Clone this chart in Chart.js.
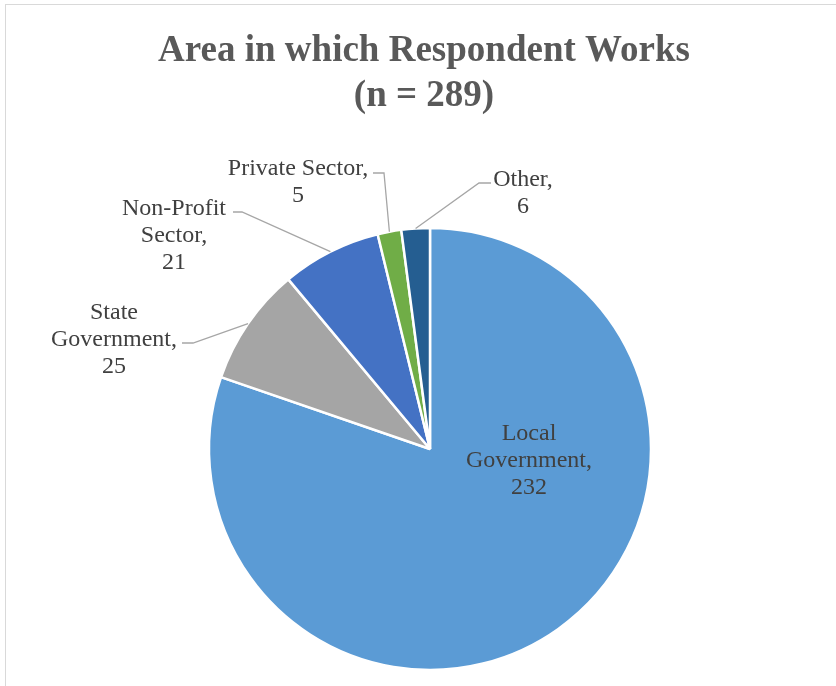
<!DOCTYPE html>
<html>
<head>
<meta charset="utf-8">
<title>Area in which Respondent Works</title>
<script src="https://cdn.jsdelivr.net/npm/chart.js@4.4.0/dist/chart.umd.min.js"></script>
<style>
    html, body { margin: 0; padding: 0; background: #ffffff; overflow: hidden; }
    #wrap { position: relative; width: 836px; height: 686px; }
    #frame { position: absolute; left: 5px; top: 4px; width: 900px; height: 900px; border: 1.5px solid #d9d9d9; }
    #pieCanvas { position: absolute; left: 0; top: 0; }
</style>
</head>
<body>
<div id="wrap">
    <div id="frame"></div>
    <canvas id="pieCanvas" width="836" height="686"></canvas>
</div>
<script>
// data
var categories = ['Local Government', 'State Government', 'Non-Profit Sector', 'Private Sector', 'Other'];
var respondents = [232, 25, 21, 5, 6];
var labelLines = [['Local', 'Government,'], ['State', 'Government,'], ['Non-Profit', 'Sector,'], ['Private Sector,'], ['Other,']];
var sliceColors = ['#5B9BD5', '#A5A5A5', '#4472C4', '#70AD47', '#255E91'];
var titleLines = ['Area in which Respondent Works', '(n = 289)'];

// label placement, relative to pie centre (px)
var labelLayout = [
    { inside: true, x: 99, y: -9 },
    { x: -316, y: -130, elbow: [-237, -106], end: -248 },
    { x: -256, y: -234, elbow: [-188, -237], end: -197 },
    { x: -132, y: -274, elbow: [-46, -276], end: -57 },
    { x: 93, y: -263, elbow: [49, -266], end: 61 }
];

var titlePlugin = {
    id: 'titleText',
    beforeDraw: function (chart) {
        var ctx = chart.ctx;
        ctx.save();
        ctx.font = 'bold 37px "Liberation Serif", "Times New Roman", serif';
        ctx.fillStyle = '#595959';
        ctx.textAlign = 'center';
        ctx.textBaseline = 'alphabetic';
        ctx.fillText(titleLines[0], 424, 61);
        ctx.fillText(titleLines[1], 424, 106);
        ctx.restore();
    }
};

var labelPlugin = {
    id: 'sliceLabels',
    afterDatasetsDraw: function (chart) {
        var ctx = chart.ctx;
        var meta = chart.getDatasetMeta(0);
        ctx.save();
        ctx.font = '24px "Liberation Serif", "Times New Roman", serif';
        ctx.textAlign = 'center';
        ctx.textBaseline = 'alphabetic';
        meta.data.forEach(function (arc, i) {
            var p = arc.getProps(['x', 'y', 'startAngle', 'endAngle', 'outerRadius'], true);
            var lay = labelLayout[i];
            var lines = labelLines[i].concat([String(respondents[i])]);
            if (!lay.inside) {
                var mid = (p.startAngle + p.endAngle) / 2;
                ctx.strokeStyle = '#a6a6a6';
                ctx.lineWidth = 1.3;
                ctx.beginPath();
                ctx.moveTo(p.x + Math.cos(mid) * p.outerRadius, p.y + Math.sin(mid) * p.outerRadius);
                ctx.lineTo(p.x + lay.elbow[0], p.y + lay.elbow[1]);
                ctx.lineTo(p.x + lay.end, p.y + lay.elbow[1]);
                ctx.stroke();
            }
            ctx.fillStyle = '#404040';
            for (var j = 0; j < lines.length; j++) {
                ctx.fillText(lines[j], p.x + lay.x, p.y + lay.y + j * 27);
            }
        });
        ctx.restore();
    }
};

var pieChart = new Chart(document.getElementById('pieCanvas'), {
    type: 'pie',
    data: {
        labels: categories,
        datasets: [{
            data: respondents,
            backgroundColor: sliceColors,
            borderColor: '#ffffff',
            borderWidth: 2.5
        }]
    },
    options: {
        responsive: false,
        animation: false,
        events: [],
        radius: 221,
        layout: {
            padding: { left: 24, right: 0, top: 212, bottom: 0 }
        },
        plugins: {
            legend: { display: false },
            tooltip: { enabled: false },
            title: { display: false }
        }
    },
    plugins: [titlePlugin, labelPlugin]
});
</script>
</body>
</html>
